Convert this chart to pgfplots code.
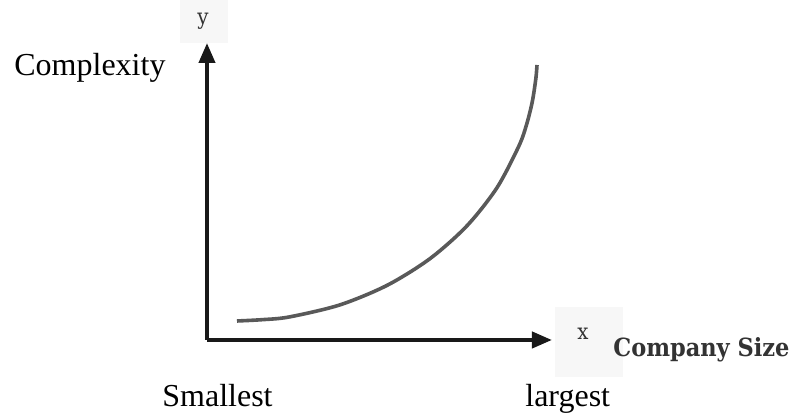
\documentclass[border=0pt]{standalone}
\usepackage{fontspec}
\setmainfont{Liberation Serif}
\newfontfamily\oldfont{DejaVu Serif Condensed}
\usepackage{pgfplots}
\pgfplotsset{compat=1.18}
\usetikzlibrary{arrows.meta}
\begin{document}
\begin{tikzpicture}
\begin{axis}[
  x=0.5pt, y=0.5pt,
  xmin=207, xmax=552, ymin=75, ymax=372,
  axis lines=left,
  axis line style={line width=2pt, black!90, -{Triangle[length=10pt,width=8pt]}},
  xtick=\empty, ytick=\empty,
  clip=false,
]
\path (axis cs:0,0) rectangle (axis cs:800,415);
\addplot[smooth, line width=1.8pt, black!65] coordinates {
(237,94) (262,95.3) (289.1,98.0) (339.6,110.0) (387,129.6) (429.8,156.2) (466.8,189.0)
(496.8,227) (518.9,269.0) (526.8,291.2) (532.4,313.8) (535.9,336.8) (537,350)
};
\fill[black!3] (axis cs:180,372) rectangle (axis cs:228,415);
\fill[black!3] (axis cs:555,38) rectangle (axis cs:623,108);
\node[font=\oldfont\fontsize{11}{12}\selectfont, text=black!80, anchor=base] at (axis cs:203,390) {y};
\node[font=\oldfont\fontsize{11}{12}\selectfont, text=black!80, anchor=base] at (axis cs:583,75) {x};
\node[font=\fontsize{16}{18}\selectfont, anchor=base west, inner sep=0pt] at (axis cs:14,339) {Complexity};
\node[font=\oldfont\bfseries\fontsize{12.5}{14}\selectfont, text=black!80, anchor=base west, inner sep=0pt] at (axis cs:613,58) {Company Size};
\node[font=\fontsize{16}{18}\selectfont, anchor=base west, inner sep=0pt] at (axis cs:162,8) {Smallest};
\node[font=\fontsize{16}{18}\selectfont, anchor=base west, inner sep=0pt] at (axis cs:525,8) {largest};
\end{axis}
\end{tikzpicture}
\end{document}
